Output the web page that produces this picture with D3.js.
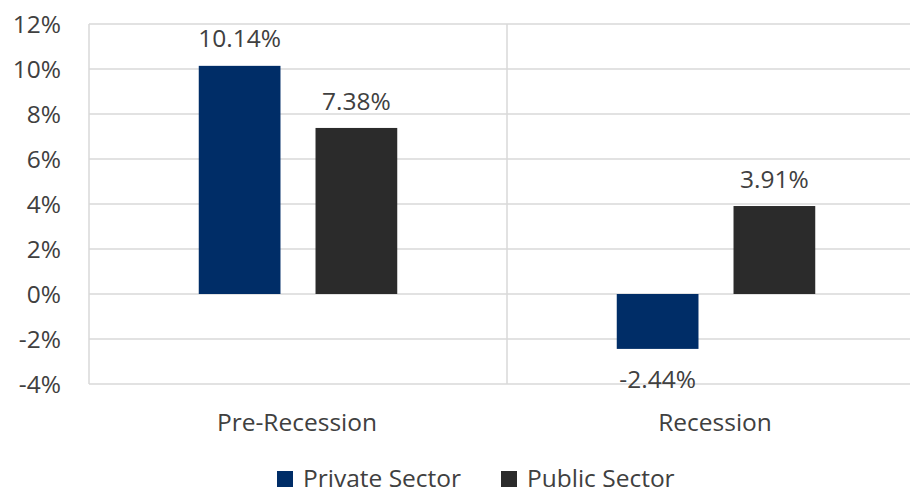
<!DOCTYPE html>
<html>
<head>
<meta charset="utf-8">
<script src="https://cdn.jsdelivr.net/npm/d3@7"></script>
<style>
  html, body { margin: 0; padding: 0; background: #fff; }
  svg text { font-family: "Open Sans", Lato, sans-serif; fill: #404040; }
</style>
</head>
<body>
<svg id="chart" width="910" height="494"></svg>
<script>
const categories = ["Pre-Recession", "Recession"];
const seriesNames = ["Private Sector", "Public Sector"];
const privateSector = [10.14, -2.44];
const publicSector = [7.38, 3.91];
const yTicks = [-4, -2, 0, 2, 4, 6, 8, 10, 12];
const colors = ["#002D67", "#2B2B2B"];

const svg = d3.select("#chart");
const margin = { left: 89, right: -15, top: 24, bottom: 110 };
const W = 910, H = 494;
const FS = "24.5px";

const x0 = d3.scaleBand().domain(categories).range([margin.left, W - margin.right]).paddingInner(0).paddingOuter(0);
const x1 = d3.scaleBand().domain(seriesNames).range([0, x0.bandwidth()]).paddingInner(0.3).paddingOuter(0.94);
const y = d3.scaleLinear().domain([-4, 12]).range([H - margin.bottom, margin.top]);

// horizontal gridlines
svg.append("g").selectAll("line").data(yTicks).join("line")
  .attr("x1", margin.left).attr("x2", W)
  .attr("y1", d => y(d)).attr("y2", d => y(d))
  .attr("stroke", "#D9D9D9").attr("stroke-width", 1.5);

// category separators
const seps = [margin.left, x0(categories[1])];
svg.append("g").selectAll("line").data(seps).join("line")
  .attr("x1", d => d).attr("x2", d => d)
  .attr("y1", y(12)).attr("y2", y(-4))
  .attr("stroke", "#D9D9D9").attr("stroke-width", 1.5);

// y axis labels
svg.append("g").selectAll("text").data(yTicks).join("text")
  .attr("x", 61).attr("y", d => y(d))
  .attr("dy", "0.35em").attr("text-anchor", "end")
  .style("font-size", FS)
  .text(d => d + "%");

const rows = categories.map((c, i) => ({ cat: c, vals: [privateSector[i], publicSector[i]] }));

const groups = svg.append("g").selectAll("g").data(rows).join("g")
  .attr("transform", d => `translate(${x0(d.cat)},0)`);

const bars = groups.selectAll("g").data(d => d.vals.map((v, j) => ({ v, s: seriesNames[j], j }))).join("g");

bars.append("rect")
  .attr("x", d => x1(d.s))
  .attr("width", x1.bandwidth())
  .attr("y", d => y(Math.max(0, d.v)))
  .attr("height", d => Math.abs(y(d.v) - y(0)))
  .attr("fill", d => colors[d.j]);

bars.append("text")
  .attr("x", d => x1(d.s) + x1.bandwidth() / 2)
  .attr("y", d => d.v >= 0 ? y(d.v) - 27 : y(d.v) + 31)
  .attr("dy", "0.35em")
  .attr("text-anchor", "middle")
  .style("font-size", FS)
  .text(d => d.v.toFixed(2) + "%");

// category labels
svg.append("g").selectAll("text").data(categories).join("text")
  .attr("x", d => x0(d) + x0.bandwidth() / 2 - 1)
  .attr("y", 422).attr("dy", "0.35em")
  .attr("text-anchor", "middle")
  .style("font-size", FS)
  .text(d => d);

// legend
const legendX = [277, 501];
const lg = svg.append("g").selectAll("g").data(seriesNames).join("g")
  .attr("transform", (d, i) => `translate(${legendX[i]},478)`);
lg.append("rect").attr("x", 0).attr("y", -7).attr("width", 16).attr("height", 16)
  .attr("fill", (d, i) => colors[i]);
lg.append("text").attr("x", 26).attr("y", 0).attr("dy", "0.35em")
  .style("font-size", FS).text(d => d);
</script>
</body>
</html>
